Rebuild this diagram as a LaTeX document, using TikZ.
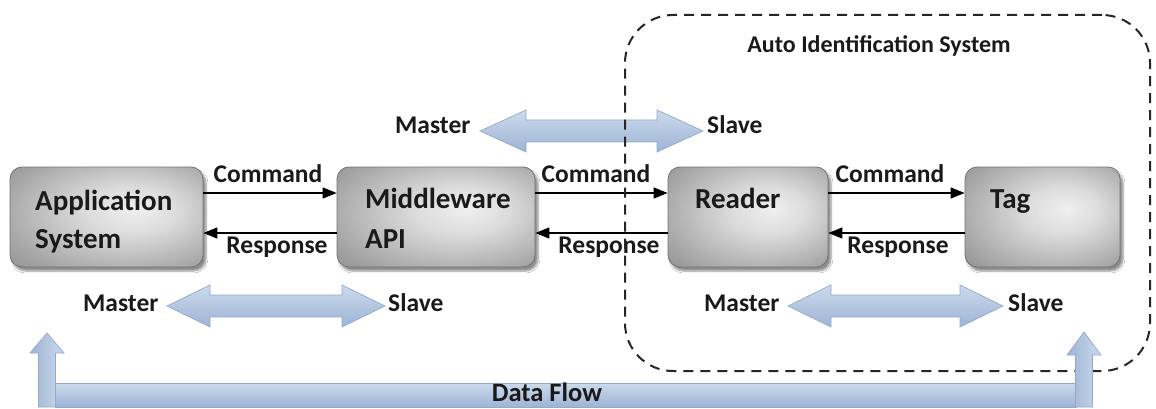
\documentclass[tikz,border=0pt]{standalone}
\usepackage{fontspec}
\setmainfont{Carlito}
\usetikzlibrary{arrows.meta,shadows.blur}

\definecolor{flowlight}{HTML}{EEF3FA}
\definecolor{flowmid}{HTML}{CCDAEC}
\definecolor{flowdark}{HTML}{9DB4D5}
\definecolor{flowedge}{HTML}{93AACB}
\definecolor{inkdark}{HTML}{1A1A1A}

% grey glow for the system boxes: a light band inside, darker rim
\pgfdeclareradialshading{boxglow}{\pgfpoint{8bp}{4bp}}{%
  color(0bp)=(black!6); color(12bp)=(black!14); color(38bp)=(black!42); color(62bp)=(black!62)}

% horizontal two-headed arrow: left tip x, right tip x, axis y, head length
\newcommand{\twowayarrow}[4]{%
  \path[draw=flowedge, line width=0.7pt, top color=flowmid, middle color=flowlight, bottom color=flowdark]
    (#1,#3) -- (#1+#4,#3-21) -- (#1+#4,#3-11) -- (#2-#4,#3-11) -- (#2-#4,#3-21) -- (#2,#3)
    -- (#2-#4,#3+21) -- (#2-#4,#3+11) -- (#1+#4,#3+11) -- (#1+#4,#3+21) -- cycle;}

% upward block arrow of the data-flow loop: axis x, tip y, head base y
\newcommand{\riserarrow}[3]{%
  \path[draw=flowedge, line width=0.7pt, left color=flowdark, middle color=flowlight, right color=flowmid]
    (#1-8.5,407) -- (#1-8.5,#3) -- (#1-17,#3) -- (#1,#2) -- (#1+17,#3) -- (#1+8.5,#3)
    -- (#1+8.5,407) -- cycle;}

\tikzset{
  sysbox/.style={draw=black!55, line width=0.8pt, rounded corners=12pt, shading=boxglow,
    blur shadow={shadow xshift=3pt, shadow yshift=-4pt, shadow blur steps=6, shadow opacity=45},
    minimum height=100pt, inner sep=0pt},
  boxtxt/.style={font=\fontsize{29}{33}\selectfont\bfseries, text=inkdark, inner sep=0pt, anchor=base west},
  lbl/.style={font=\fontsize{25.5}{29}\selectfont\bfseries, text=inkdark, inner sep=0pt, anchor=base},
  msg/.style={line width=1.5pt, -{Triangle[length=14pt,width=11pt]}},
  region/.style={draw=black!85, line width=2pt, dash pattern=on 10pt off 7pt, rounded corners=48pt,
    inner sep=0pt},
}

\begin{document}
\begin{tikzpicture}[x=1pt, y=-1pt]
  \useasboundingbox (0,0) rectangle (1156,409);
  \fill[white] (0,0) rectangle (1156,409);

  % master/slave relation between middleware and reader (under the dashed region)
  \twowayarrow{480}{703}{131}{46}
  \node[lbl, anchor=base west] (ms1) at (395,134) {Master};
  \node[lbl, anchor=base west] (sl1) at (707,134) {Slave};

  % system boxes
  \node[sysbox, minimum width=193pt] (app) at (106.5,217) {};
  \node[sysbox, minimum width=198pt] (mid) at (436,217) {};
  \node[sysbox, minimum width=160pt] (rdr) at (748,217) {};
  \node[sysbox, minimum width=155pt] (tag) at (1042.5,217) {};

  \node[boxtxt] (apptxt1) at (35,210) {Application};
  \node[boxtxt] (apptxt2) at (35,248) {System};
  \node[boxtxt] (midtxt1) at (365,208) {Middleware};
  \node[boxtxt] (midtxt2) at (365,248) {API};
  \node[boxtxt] (rdrtxt) at (695,208) {Reader};
  \node[boxtxt] (tagtxt) at (990,208) {Tag};

  % command / response exchanges
  \draw[msg] ([yshift=24pt]app.east) -- ([yshift=24pt]mid.west);
  \draw[msg] ([yshift=-16pt]mid.west) -- ([yshift=-16pt]app.east);
  \draw[msg] ([yshift=24pt]mid.east) -- ([yshift=24pt]rdr.west);
  \draw[msg] ([yshift=-16pt]rdr.west) -- ([yshift=-16pt]mid.east);
  \draw[msg] ([yshift=24pt]rdr.east) -- ([yshift=24pt]tag.west);
  \draw[msg] ([yshift=-16pt]tag.west) -- ([yshift=-16pt]rdr.east);

  \node[lbl] (cmd1) at (268,182) {Command};
  \node[lbl] (rsp1) at (277,253) {Response};
  \node[lbl] (cmd2) at (596,182) {Command};
  \node[lbl] (rsp2) at (609,253) {Response};
  \node[lbl] (cmd3) at (890,182) {Command};
  \node[lbl] (rsp3) at (898,253) {Response};

  % lower master/slave relations
  \twowayarrow{167}{385}{306}{43}
  \node[lbl, anchor=base west] (ms2) at (83,311) {Master};
  \node[lbl, anchor=base west] (sl2) at (388,311) {Slave};
  \twowayarrow{788}{1003}{306}{43}
  \node[lbl, anchor=base west] (ms3) at (704,311) {Master};
  \node[lbl, anchor=base west] (sl3) at (1008,311) {Slave};

  % auto identification region
  \node[region, minimum width=525pt, minimum height=356pt] (ais) at (887.5,193) {};
  \node[lbl, font=\fontsize{24}{28}\selectfont\bfseries] (aistxt) at (879,53) {Auto Identification System};

  % data flow loop
  \path[draw=flowedge, line width=0.7pt, top color=flowmid, middle color=flowlight, bottom color=flowdark]
    (55,383) rectangle (1076,407);
  \riserarrow{47}{333}{353}
  \riserarrow{1084}{332}{355}
  \node[lbl, font=\fontsize{26.5}{30}\selectfont\bfseries] (dataflow) at (547,401) {Data Flow};
\end{tikzpicture}
\end{document}
